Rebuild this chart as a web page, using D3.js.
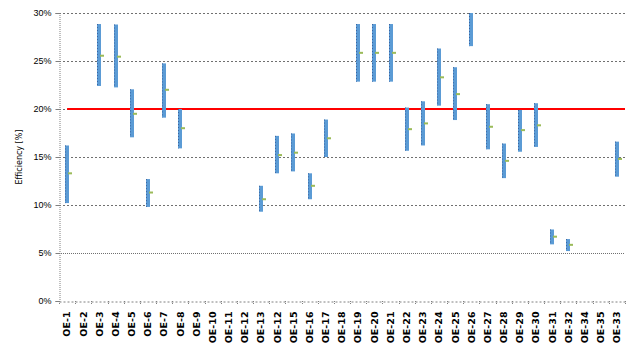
<!DOCTYPE html>
<html>
<head>
<meta charset="utf-8">
<script src="https://cdn.jsdelivr.net/npm/d3@7"></script>
<style>
  body { margin: 0; background: #fff; }
  svg { display: block; font-family: "DejaVu Sans", sans-serif; }
</style>
</head>
<body>
<div id="chart"></div>
<script>
// chart data (values in %)
const categories = ["OE-1","OE-2","OE-3","OE-4","OE-5","OE-6","OE-7","OE-8","OE-9","OE-10",
  "OE-11","OE-12","OE-13","OE-12","OE-15","OE-16","OE-17","OE-18","OE-19","OE-20",
  "OE-21","OE-22","OE-23","OE-24","OE-25","OE-26","OE-27","OE-28","OE-29","OE-30",
  "OE-31","OE-32","OE-34","OE-35","OE-33"];
const maxValues = [16.2,null,28.85,28.8,22.05,12.7,24.75,20.0,null,null,
  null,null,12.0,17.2,17.45,13.3,18.9,null,28.85,28.85,
  28.85,20.15,20.8,26.3,24.35,30.0,20.5,16.4,19.9,20.6,
  7.45,6.45,null,null,16.6];
const minValues = [10.2,null,22.4,22.25,17.05,9.8,19.1,15.9,null,null,
  null,null,9.3,13.3,13.5,10.6,15.0,null,22.85,22.85,
  22.85,15.65,16.2,20.35,18.85,26.55,15.8,12.8,15.55,16.05,
  5.9,5.2,null,null,12.95];
const avgValues = [13.3,null,25.55,25.45,19.5,11.3,22.0,18.0,null,null,
  null,null,10.6,15.2,15.45,12.0,16.95,null,25.85,25.85,
  25.85,17.9,18.5,23.3,21.55,null,18.15,14.6,17.8,18.3,
  6.7,5.85,null,null,14.8];
const yTicks = [0, 5, 10, 15, 20, 25, 30];
const targetValue = 20;

const width = 633, height = 355;
const margin = {top: 13, right: 8, bottom: 54, left: 59};

const svg = d3.select("#chart").append("svg")
  .attr("width", width)
  .attr("height", height);

const x = d3.scaleBand()
  .domain(d3.range(categories.length))
  .range([margin.left, width - margin.right]);

const y = d3.scaleLinear()
  .domain([0, 30])
  .range([height - margin.bottom, margin.top]);

// gridlines
svg.append("g")
  .selectAll("line")
  .data(yTicks.filter(d => d > 0))
  .join("line")
  .attr("x1", margin.left)
  .attr("x2", width - margin.right)
  .attr("y1", d => Math.round(y(d)) + 0.5)
  .attr("y2", d => Math.round(y(d)) + 0.5)
  .attr("stroke", "#707070")
  .attr("stroke-width", 1)
  .attr("stroke-dasharray", d => d === 5 ? "1,1" : "2,2");

// y axis
const yAxis = svg.append("g")
  .attr("transform", `translate(${margin.left + 0.5},0)`)
  .call(d3.axisLeft(y).tickValues(yTicks).tickFormat(d => d + "%").tickSize(4).tickPadding(4));
yAxis.select(".domain").attr("stroke", "#808080").attr("stroke-dasharray", "1,1");
yAxis.selectAll(".tick line").attr("stroke", "#808080");
yAxis.selectAll(".tick text").style("font-size", "9px").attr("fill", "#000");

// x axis
const xAxis = svg.append("g")
  .attr("transform", `translate(0,${Math.round(y(0)) + 0.5})`)
  .call(d3.axisBottom(x).tickSize(0).tickFormat(i => categories[i]));
xAxis.select(".domain").attr("stroke", "#808080").attr("stroke-dasharray", "2,2");
xAxis.selectAll(".tick text")
  .attr("transform", "rotate(-90)")
  .attr("x", -10)
  .attr("y", 0)
  .attr("dy", "0.35em")
  .style("text-anchor", "end")
  .style("font-family", "'DejaVu Sans', sans-serif")
  .style("font-size", "9.5px")
  .style("font-weight", "bold")
  .attr("fill", "#000");

// tick marks between categories
svg.append("g")
  .selectAll("line")
  .data(d3.range(categories.length + 1))
  .join("line")
  .attr("x1", i => Math.round(margin.left + i * x.step()) + 0.5)
  .attr("x2", i => Math.round(margin.left + i * x.step()) + 0.5)
  .attr("y1", y(0))
  .attr("y2", y(0) + 4)
  .attr("stroke", "#808080")
  .attr("stroke-dasharray", "1,1");

// axis title
svg.append("text")
  .attr("transform", `translate(22, ${y(15)}) rotate(-90)`)
  .style("text-anchor", "middle")
  .style("font-size", "8px")
  .text("Efficiency [%]");

// target line
svg.append("line")
  .attr("x1", x(0) + x.bandwidth() / 2)
  .attr("x2", width - margin.right)
  .attr("y1", y(targetValue))
  .attr("y2", y(targetValue))
  .attr("stroke", "#ff0000")
  .attr("stroke-width", 2);

// range bars
const ranges = categories.map((c, i) => ({i, lo: minValues[i], hi: maxValues[i], avg: avgValues[i]}))
  .filter(d => d.lo != null);

const bars = svg.append("g");
bars.selectAll("rect")
  .data(ranges)
  .join("rect")
  .attr("x", d => Math.round(x(d.i) + x.bandwidth() / 2) - 2)
  .attr("y", d => y(d.hi))
  .attr("width", 4)
  .attr("height", d => y(d.lo) - y(d.hi))
  .attr("fill", "#5b9bd5");

bars.selectAll("line")
  .data(ranges)
  .join("line")
  .attr("x1", d => Math.round(x(d.i) + x.bandwidth() / 2) - 1.5)
  .attr("x2", d => Math.round(x(d.i) + x.bandwidth() / 2) - 1.5)
  .attr("y1", d => y(d.hi))
  .attr("y2", d => y(d.lo))
  .attr("stroke", "#3a64a0")
  .attr("stroke-width", 1)
  .attr("stroke-dasharray", "1,2");

// average markers
svg.append("g")
  .selectAll("rect")
  .data(ranges.filter(d => d.avg != null))
  .join("rect")
  .attr("x", d => Math.round(x(d.i) + x.bandwidth() / 2) + 1)
  .attr("y", d => y(d.avg) - 1)
  .attr("width", 4)
  .attr("height", 2)
  .attr("fill", "#9bbb59");
</script>
</body>
</html>
